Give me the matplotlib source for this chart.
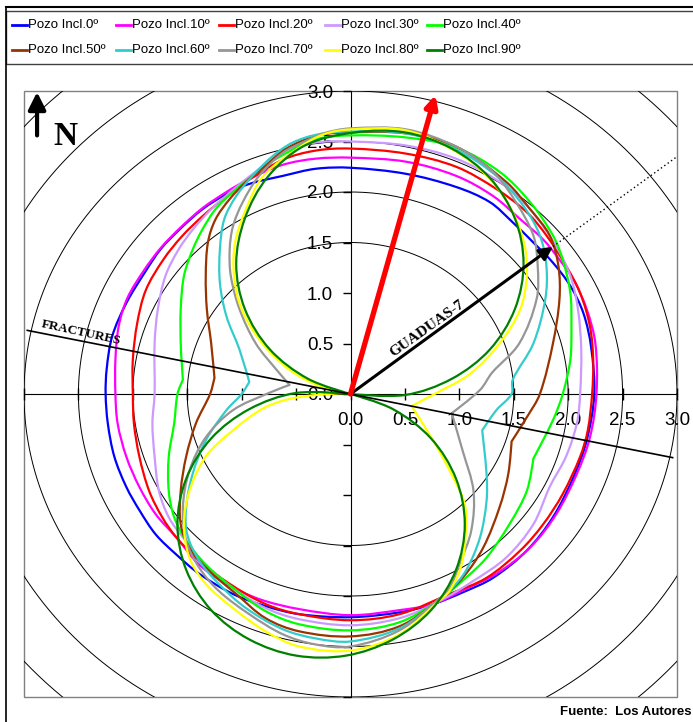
import matplotlib
matplotlib.use("Agg")
import matplotlib.pyplot as plt
import numpy as np
from matplotlib.lines import Line2D
from matplotlib.patches import PathPatch, Rectangle
from matplotlib.path import Path
from matplotlib.ticker import FuncFormatter, MultipleLocator

plt.rcParams["font.family"] = ["Liberation Sans", "DejaVu Sans"]

W, H = 693, 722

LABELS = ["Pozo Incl.0º", "Pozo Incl.10º", "Pozo Incl.20º", "Pozo Incl.30º", "Pozo Incl.40º",
          "Pozo Incl.50º", "Pozo Incl.60º", "Pozo Incl.70º", "Pozo Incl.80º", "Pozo Incl.90º"]
COLORS = ["#0000FF", "#FF00FF", "#FF0000", "#CC99FF", "#00FF00",
          "#993300", "#33CCCC", "#969696", "#FFFF00", "#008000"]

# curvas (x, y), recorridas en sentido antihorario;
# *_KINK = índices de los puntos donde la curva hace pico
INC0_X = [2.24, 2.21, 2.14, 2.02, 1.86, 1.68, 1.49, 1.28, 0.97, 0.51, 0.00, -0.32, -0.62, -0.93, -1.14, -1.36,
          -1.56, -1.74, -1.88, -2.06, -2.19, -2.24, -2.25, -2.23, -2.17, -2.06, -1.94, -1.79, -1.60, -1.39,
          -1.08, -0.78, -0.47, 0.00, 0.46, 0.76, 1.04, 1.31, 1.62, 1.86, 2.05, 2.17, 2.24]
INC0_Y = [0.00, 0.47, 0.80, 1.07, 1.30, 1.50, 1.70, 1.90, 2.05, 2.18, 2.24, 2.23, 2.16, 2.08, 1.98, 1.83,
          1.64, 1.44, 1.22, 0.90, 0.57, 0.25, 0.00, -0.29, -0.62, -0.92, -1.15, -1.39, -1.59, -1.78,
          -1.98, -2.10, -2.18, -2.21, -2.16, -2.08, -1.96, -1.82, -1.55, -1.22, -0.82, -0.46, 0.00]
INC0_KINK = []

INC10_X = [2.26, 2.25, 2.17, 2.05, 1.92, 1.77, 1.56, 1.31, 0.97, 0.51, 0.00, -0.32, -0.62, -0.93, -1.14, -1.36,
           -1.56, -1.74, -1.90, -2.05, -2.13, -2.16, -2.16, -2.14, -2.06, -1.94, -1.79, -1.60, -1.39, -1.14,
           -0.84, -0.47, 0.00, 0.45, 0.76, 1.02, 1.34, 1.65, 1.89, 2.08, 2.20, 2.26]
INC10_Y = [0.00, 0.50, 0.84, 1.13, 1.33, 1.53, 1.73, 1.96, 2.16, 2.30, 2.34, 2.33, 2.27, 2.13, 2.00, 1.84,
           1.65, 1.45, 1.22, 0.95, 0.67, 0.34, 0.00, -0.29, -0.62, -0.92, -1.19, -1.42, -1.69, -1.88,
           -2.03, -2.13, -2.19, -2.14, -2.08, -1.95, -1.78, -1.52, -1.19, -0.79, -0.43, 0.00]
INC10_KINK = []

INC20_X = [2.22, 2.23, 2.20, 2.11, 1.98, 1.80, 1.62, 1.34, 0.97, 0.51, 0.00, -0.32, -0.62, -0.96, -1.17, -1.36,
           -1.55, -1.72, -1.88, -1.96, -2.00, -2.00, -1.99, -1.94, -1.85, -1.73, -1.60, -1.39, -1.11, -0.78,
           -0.47, 0.00, 0.45, 0.91, 1.25, 1.56, 1.77, 1.95, 2.11, 2.18, 2.22]
INC20_Y = [0.00, 0.34, 0.67, 1.00, 1.27, 1.57, 1.80, 2.03, 2.25, 2.38, 2.43, 2.41, 2.32, 2.10, 1.93, 1.76,
           1.56, 1.33, 1.03, 0.70, 0.34, 0.00, -0.29, -0.62, -0.96, -1.22, -1.42, -1.65, -1.88, -2.08,
           -2.18, -2.24, -2.18, -1.98, -1.82, -1.55, -1.29, -0.99, -0.62, -0.36, 0.00]
INC20_KINK = []

INC30_X = [2.11, 2.12, 2.09, 2.02, 1.88, 1.65, 1.37, 0.97, 0.51, 0.00, -0.32, -0.62, -0.85, -1.07, -1.27, -1.44,
           -1.58, -1.70, -1.77, -1.80, -1.80, -1.82, -1.80, -1.76, -1.67, -1.54, -1.33, -1.08, -0.78, -0.47,
           0.00, 0.45, 0.80, 1.13, 1.43, 1.68, 1.83, 1.98, 2.08, 2.11]
INC30_Y = [0.00, 0.44, 0.84, 1.17, 1.48, 1.83, 2.10, 2.33, 2.46, 2.50, 2.49, 2.40, 2.22, 2.03, 1.84, 1.64,
           1.43, 1.17, 0.84, 0.50, 0.00, -0.29, -0.62, -0.96, -1.22, -1.42, -1.69, -1.92, -2.12, -2.23,
           -2.29, -2.22, -2.06, -1.85, -1.62, -1.29, -0.92, -0.62, -0.29, 0.00]
INC30_KINK = []

INC40_X = [1.95, 2.02, 2.03, 2.02, 1.95, 1.86, 1.65, 1.37, 0.97, 0.51, 0.00, -0.32, -0.68, -0.90, -1.08, -1.24,
           -1.36, -1.45, -1.53, -1.56, -1.56, -1.55, -1.54, -1.59, -1.62, -1.67, -1.67, -1.62, -1.51, -1.33,
           -1.08, -0.78, -0.47, 0.00, 0.45, 0.80, 1.06, 1.25, 1.46, 1.62, 1.68, 1.86, 1.95]
INC40_Y = [0.00, 0.34, 0.67, 1.00, 1.33, 1.57, 1.90, 2.20, 2.44, 2.54, 2.56, 2.52, 2.33, 2.16, 2.00, 1.83,
           1.63, 1.43, 1.17, 0.84, 0.50, 0.30, 0.14, 0.00, -0.29, -0.62, -0.96, -1.22, -1.45, -1.69,
           -1.92, -2.15, -2.28, -2.34, -2.26, -2.05, -1.82, -1.62, -1.29, -0.96, -0.64, -0.26, 0.00]
INC40_KINK = [22, 40]

INC50_X = [1.74, 1.86, 1.92, 1.91, 1.83, 1.65, 1.43, 0.97, 0.51, 0.00, -0.30, -0.59, -0.78, -0.96, -1.11, -1.24,
           -1.31, -1.33, -1.32, -1.28, -1.25, -1.29, -1.42, -1.51, -1.56, -1.56, -1.48, -1.30, -1.05, -0.78,
           -0.47, 0.00, 0.45, 0.80, 1.03, 1.22, 1.37, 1.45, 1.48, 1.62, 1.74]
INC50_Y = [0.00, 0.50, 0.94, 1.27, 1.57, 1.83, 2.10, 2.45, 2.58, 2.59, 2.56, 2.43, 2.26, 2.10, 1.93, 1.73,
           1.50, 1.17, 0.84, 0.50, 0.16, 0.00, -0.29, -0.62, -0.96, -1.29, -1.52, -1.75, -1.98, -2.22,
           -2.35, -2.40, -2.30, -2.05, -1.82, -1.52, -1.12, -0.79, -0.47, -0.23, 0.00]
INC50_KINK = [20, 38]

INC60_X = [1.48, 1.49, 1.68, 1.79, 1.80, 1.74, 1.59, 1.34, 0.97, 0.51, 0.00, -0.30, -0.53, -0.71, -0.90, -1.05,
           -1.16, -1.20, -1.20, -1.14, -1.02, -0.93, -1.00, -1.14, -1.33, -1.45, -1.51, -1.50, -1.39, -1.21,
           -0.96, -0.62, -0.32, 0.00, 0.45, 0.80, 0.91, 1.06, 1.19, 1.25, 1.25, 1.21, 1.34, 1.48]
INC60_Y = [0.00, 0.14, 0.50, 0.94, 1.27, 1.57, 1.86, 2.16, 2.42, 2.58, 2.60, 2.57, 2.49, 2.36, 2.16, 1.96,
           1.73, 1.43, 1.10, 0.77, 0.44, 0.12, 0.00, -0.16, -0.46, -0.79, -1.12, -1.39, -1.65, -1.88,
           -2.12, -2.33, -2.42, -2.45, -2.32, -2.05, -1.95, -1.75, -1.42, -1.06, -0.79, -0.36, -0.16, 0.00]
INC60_KINK = [21, 41]

INC70_X = [0.93, 1.19, 1.30, 1.55, 1.71, 1.72, 1.68, 1.52, 1.31, 0.97, 0.51, 0.00, -0.25, -0.44, -0.62, -0.84,
           -0.99, -1.08, -1.11, -1.10, -1.02, -0.87, -0.68, -0.56, -0.75, -1.08, -1.33, -1.48, -1.54, -1.51,
           -1.39, -1.21, -0.93, -0.62, -0.32, 0.00, 0.45, 0.80, 0.91, 1.00, 1.11, 1.13, 1.03, 0.93]
INC70_Y = [-0.19, 0.04, 0.21, 0.50, 0.94, 1.27, 1.57, 1.90, 2.20, 2.45, 2.62, 2.63, 2.58, 2.49, 2.39, 2.16,
           1.90, 1.66, 1.43, 1.17, 0.84, 0.50, 0.24, 0.09, 0.01, -0.16, -0.43, -0.76, -1.12, -1.45,
           -1.72, -1.95, -2.18, -2.38, -2.48, -2.50, -2.34, -2.04, -1.92, -1.69, -1.35, -0.96, -0.56, -0.19]
INC70_KINK = [0, 23]

INC80_X = [0.56, 0.79, 1.10, 1.37, 1.56, 1.62, 1.60, 1.49, 1.28, 0.97, 0.51, 0.00, -0.25, -0.47, -0.80, -0.96,
           -1.06, -1.07, -1.00, -0.81, -0.56, -0.29, -0.05, -0.47, -0.78, -1.08, -1.33, -1.48, -1.53, -1.48,
           -1.33, -1.08, -0.78, -0.47, 0.00, 0.45, 0.80, 0.91, 1.02, 1.06, 1.05, 0.94, 0.76, 0.56]
INC80_Y = [-0.12, 0.01, 0.20, 0.50, 0.84, 1.17, 1.47, 1.80, 2.13, 2.40, 2.61, 2.62, 2.57, 2.44, 2.16, 1.83,
           1.50, 1.17, 0.84, 0.50, 0.24, 0.08, 0.01, -0.03, -0.13, -0.36, -0.62, -0.96, -1.29, -1.62,
           -1.88, -2.12, -2.35, -2.50, -2.54, -2.38, -2.06, -1.95, -1.69, -1.35, -1.09, -0.82, -0.46, -0.12]
INC80_KINK = [0, 22]

INC90_X = [0.00, 0.50, 0.93, 1.28, 1.51, 1.59, 1.51, 1.28, 0.93, 0.50, 0.04, -0.42, -0.76, -0.97, -1.05, -0.97,
           -0.74, -0.39, 0.00, -0.50, -0.93, -1.28, -1.51, -1.59, -1.51, -1.28, -0.93, -0.50, -0.04, 0.39,
           0.74, 0.97, 1.05, 0.97, 0.74, 0.39, 0.00]
INC90_Y = [0.00, -0.01, 0.15, 0.44, 0.84, 1.29, 1.74, 2.14, 2.43, 2.59, 2.59, 2.46, 2.15, 1.74, 1.29, 0.84,
           0.44, 0.15, 0.00, 0.01, -0.15, -0.44, -0.84, -1.29, -1.74, -2.14, -2.43, -2.59, -2.59, -2.43,
           -2.14, -1.74, -1.29, -0.84, -0.44, -0.15, 0.00]
INC90_KINK = [0, 18]

CURVES = [(INC0_X, INC0_Y, INC0_KINK), (INC10_X, INC10_Y, INC10_KINK), (INC20_X, INC20_Y, INC20_KINK),
          (INC30_X, INC30_Y, INC30_KINK), (INC40_X, INC40_Y, INC40_KINK), (INC50_X, INC50_Y, INC50_KINK),
          (INC60_X, INC60_Y, INC60_KINK), (INC70_X, INC70_Y, INC70_KINK), (INC80_X, INC80_Y, INC80_KINK),
          (INC90_X, INC90_Y, INC90_KINK)]

RINGS = [1.5, 2.0, 2.5, 3.0, 3.5, 4.0]
FRACTURES_X = [-2.97, 2.96]
FRACTURES_Y = [0.63, -0.63]
GUADUAS_TIP = (1.86, 1.46)
GUADUAS_END = (3.0, 2.35)
STRESS_TIP = (0.78, 2.96)


def fx(px):
    return px / W


def fy(py):
    return 1 - py / H


def smooth_closed_path(xs, ys, kinks):
    """Curva cerrada suavizada (Bezier) que pasa por los puntos leídos."""
    pts = np.column_stack([xs, ys])[:-1]
    n = len(pts)
    tang = np.zeros_like(pts)
    for i in range(n):
        if i in kinks:
            continue
        d = pts[(i + 1) % n] - pts[(i - 1) % n]
        norm = np.hypot(*d)
        if norm > 0:
            tang[i] = d / norm
    verts = [pts[0]]
    codes = [Path.MOVETO]
    for i in range(n):
        j = (i + 1) % n
        seg = np.hypot(*(pts[j] - pts[i]))
        verts += [pts[i] + tang[i] * seg / 3, pts[j] - tang[j] * seg / 3, pts[j]]
        codes += [Path.CURVE4] * 3
    return Path(np.array(verts), codes)


fig = plt.figure(figsize=(W / 100, H / 100), dpi=100)
ax = fig.add_axes([fx(24), fy(697), (677 - 24) / W, (697 - 91) / H])
ax.set_xlim(-3, 3)
ax.set_ylim(-3, 3)

t = np.linspace(0, 2 * np.pi, 500)
for r in RINGS:
    ax.plot(r * np.cos(t), r * np.sin(t), color="black", lw=0.7, zorder=1)

for (xs, ys, kinks), c in zip(CURVES, COLORS):
    ax.add_patch(PathPatch(smooth_closed_path(xs, ys, kinks), fill=False, ec=c, lw=1.6,
                           joinstyle="round", zorder=3))

ax.plot(FRACTURES_X, FRACTURES_Y, color="black", lw=1.2, zorder=4)
ax.text(-2.48, 0.61, "FRACTURES", family="Liberation Serif", weight="bold", fontsize=9.5,
        rotation=-12.3, ha="center", va="center", rotation_mode="anchor", zorder=5)

ax.plot([GUADUAS_TIP[0], GUADUAS_END[0]], [GUADUAS_TIP[1], GUADUAS_END[1]],
        color="black", lw=1, ls=(0, (1, 2)), zorder=4)
ax.annotate("", xy=GUADUAS_TIP, xytext=(0, 0),
            arrowprops=dict(arrowstyle="-|>", color="black", lw=2.2, mutation_scale=20,
                            shrinkA=0, shrinkB=0), zorder=6)
ax.text(0.70, 0.65, "GUADUAS-7", family="Liberation Serif", weight="bold", fontsize=11,
        rotation=35.5, ha="center", va="center", rotation_mode="anchor", zorder=6)

ax.annotate("", xy=STRESS_TIP, xytext=(0, 0),
            arrowprops=dict(arrowstyle="-|>", color="red", lw=3.8, mutation_scale=18,
                            shrinkA=0, shrinkB=0), zorder=7)

# flecha del norte
ax.annotate("", xy=(-2.88, 2.99), xytext=(-2.88, 2.56),
            arrowprops=dict(arrowstyle="-|>", color="black", lw=3, mutation_scale=26,
                            shrinkA=0, shrinkB=0), annotation_clip=False, zorder=7)
ax.text(-2.62, 2.55, "N", family="Liberation Serif", weight="bold", fontsize=24,
        ha="center", va="center", zorder=7)

for s in ["top", "right"]:
    ax.spines[s].set_visible(False)
ax.spines["left"].set_position(("data", 0))
ax.spines["bottom"].set_position(("data", 0))
ax.spines["left"].set_zorder(2)
ax.spines["bottom"].set_zorder(2)
ax.add_patch(Rectangle((0, 0), 1, 1, transform=ax.transAxes, fill=False,
                       ec="#808080", lw=1, clip_on=False, zorder=0))

fmt = FuncFormatter(lambda v, _: f"{abs(v):.1f}" if v > -1e-9 else "")
ax.xaxis.set_major_locator(MultipleLocator(0.5))
ax.yaxis.set_major_locator(MultipleLocator(0.5))
ax.xaxis.set_major_formatter(fmt)
ax.yaxis.set_major_formatter(fmt)
ax.tick_params(axis="x", direction="inout", length=9, width=1, pad=8.5, labelsize=13.5)
ax.tick_params(axis="y", direction="out", length=6, width=1, pad=6.5, labelsize=13.5)

# marco del gráfico y leyenda
fig.add_artist(Line2D([fx(6), fx(W)], [fy(7), fy(7)], color="black", lw=1.5))
fig.add_artist(Line2D([fx(6), fx(6)], [fy(7), fy(H)], color="black", lw=1.2))
fig.add_artist(Rectangle((fx(6), fy(64)), fx(W + 10) - fx(6), fy(11) - fy(64),
                         fill=False, ec="#404040", lw=1))

col_x = [12, 116, 219, 325, 427]
row_y = [25, 50]
for i, (lab, c) in enumerate(zip(LABELS, COLORS)):
    x0 = col_x[i % 5]
    y0 = row_y[i // 5]
    fig.add_artist(Line2D([fx(x0), fx(x0 + 15)], [fy(y0), fy(y0)], color=c, lw=2))
    fig.text(fx(x0 + 16), fy(y0), lab, fontsize=9.5, ha="left", va="center")

fig.text(fx(692), fy(712), "Fuente:  Los Autores", fontsize=9.5, weight="bold",
         ha="right", va="center")

fig.savefig("out.png", dpi=100)
